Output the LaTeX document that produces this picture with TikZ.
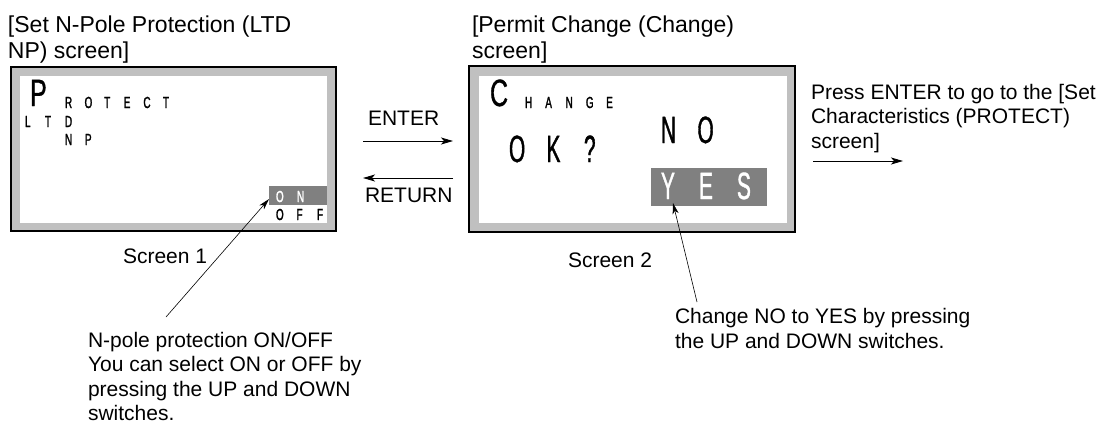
\documentclass[tikz,border=0pt]{standalone}
\usepackage{fontspec}
\setmainfont{Liberation Sans}
\newfontfamily\lcdfont[FakeStretch=0.55,FakeBold=1.0]{Liberation Sans}
\newfontfamily\lcdsfont[FakeStretch=0.62,FakeBold=1.6]{Liberation Sans}
\newfontfamily\lcdhfont[FakeStretch=0.66,FakeBold=0.8]{Liberation Sans}
\usetikzlibrary{arrows.meta}
\definecolor{bezel}{RGB}{192,192,192}
\definecolor{hilite}{RGB}{128,128,128}
\newlength\lcdpitch
\newcommand\cell[1]{\makebox[\lcdpitch][l]{#1}}
\tikzset{
  bezelbox/.style={draw=black, line width=2pt, fill=bezel, inner sep=0, outer sep=0},
  lcdpanel/.style={fill=white, inner sep=0, outer sep=0},
  hibox/.style={fill=hilite, inner sep=0, outer sep=0},
  lcdsmall/.style={anchor=base west, inner sep=0, outer sep=0, font=\lcdsfont\fontsize{16}{16}\selectfont},
  lcdbig/.style={anchor=base west, inner sep=0, outer sep=0, font=\lcdfont\fontsize{38}{38}\selectfont},
  lcdhead/.style={anchor=base west, inner sep=0, outer sep=0, font=\lcdhfont\fontsize{38}{38}\selectfont},
  title/.style={anchor=base west, inner sep=0, outer sep=0, align=left, font=\fontsize{23}{26}\selectfont},
  label/.style={anchor=base west, inner sep=0, outer sep=0, align=left, font=\fontsize{21}{24.3}\selectfont},
  flow/.style={-{Stealth[length=12pt,width=7pt,inset=3pt]}, line width=0.9pt},
  leader/.style={-{Stealth[length=11pt,width=6pt,inset=3pt]}, line width=0.6pt},
}
\begin{document}
\begin{tikzpicture}[x=1pt,y=-1pt]
\useasboundingbox (0,0) rectangle (1103,421);

% Titles (base anchor = baseline of the last line)
\node[title] (t1) at (8,58) {[Set N-Pole Protection (LTD\\NP) screen]};
\node[title] (t2) at (472,58) {[Permit Change (Change)\\screen]};

% Screen 1
\node[bezelbox, minimum width=325pt, minimum height=164pt] (s1) at (173.5,149) {};
\node[lcdpanel, minimum width=307pt, minimum height=147pt] (p1) at (173.5,149.5) {};
\node[lcdhead] (bigP) at (30,106) {P};
\node[lcdsmall] (rotect) at (65,108) {\setlength\lcdpitch{19.6pt}\cell R\cell O\cell T\cell E\cell C\cell T};
\node[lcdsmall] (ltd) at (25,127) {\setlength\lcdpitch{20pt}\cell L\cell T\cell D};
\node[lcdsmall] (np) at (65,145) {\setlength\lcdpitch{20pt}\cell N\cell P};
\node[hibox, minimum width=58pt, minimum height=19pt] (onbox) at (298,195.5) {};
\node[lcdsmall, text=white] (on) at (276,202) {\setlength\lcdpitch{21pt}\cell O\cell N};
\node[lcdsmall] (off) at (276,220) {\setlength\lcdpitch{20.5pt}\cell O\cell F\cell F};
\node[label] (sc1) at (123,263) {Screen 1};

% Screen 2
\node[bezelbox, minimum width=326pt, minimum height=166pt] (s2) at (632,149) {};
\node[lcdpanel, minimum width=308pt, minimum height=147pt] (p2) at (633,149.5) {};
\node[lcdhead] (bigC) at (490,106) {C};
\node[lcdsmall] (hange) at (525,108) {\setlength\lcdpitch{20.3pt}\cell H\cell A\cell N\cell G\cell E};
\node[lcdbig] (okq) at (509,162) {\setlength\lcdpitch{37.5pt}\cell O\cell K\cell ?};
\node[lcdbig] (no) at (661,143) {\setlength\lcdpitch{36.5pt}\cell N\cell O};
\node[hibox, minimum width=116pt, minimum height=38pt] (yesbox) at (709,187) {};
\node[lcdbig, text=white] (yes) at (661,199) {\setlength\lcdpitch{38pt}\cell Y\cell E\cell S};
\node[label] (sc2) at (568,267) {Screen 2};

% Navigation arrows
\node[label] (enter) at (368,125) {ENTER};
\node[label] (ret) at (365,202) {RETURN};
\coordinate (entA) at (363,141);
\coordinate (entB) at (453,141);
\coordinate (retA) at (453,178);
\coordinate (retB) at (363,178);
\draw[flow] (entA) -- (entB);
\draw[flow] (retA) -- (retB);

\node[label] (next) at (811,148) {Press ENTER to go to the [Set\\Characteristics (PROTECT)\\screen]};
\coordinate (nxA) at (813,161);
\coordinate (nxB) at (903,161);
\draw[flow] (nxA) -- (nxB);

% Notes
\node[label] (note1) at (88,420.5) {N-pole protection ON/OFF\\You can select ON or OFF by\\pressing the UP and DOWN\\switches.};
\coordinate (l1) at (166,317);
\draw[leader] (l1) -- ([yshift=-3.5pt]onbox.west);

\node[label] (note2) at (675,348) {Change NO to YES by pressing\\the UP and DOWN switches.};
\coordinate (l2) at (697,302);
\draw[leader] (l2) -- ([xshift=-36pt,yshift=3pt]yesbox.south);
\end{tikzpicture}
\end{document}
